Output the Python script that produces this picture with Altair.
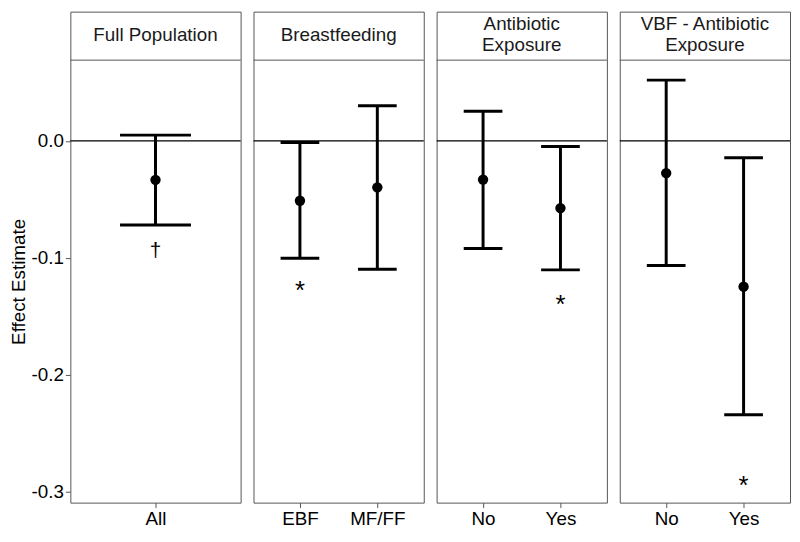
import altair as alt
import pandas as pd

# ---- data ----
panel_titles = [["Full Population"], ["Breastfeeding"], ["Antibiotic", "Exposure"],
                ["VBF - Antibiotic", "Exposure"]]
panel_of = [0, 1, 1, 2, 2, 3, 3]
category = ["All", "EBF", "MF/FF", "No", "Yes", "No", "Yes"]
estimate = [-0.0333, -0.0512, -0.0397, -0.0331, -0.0575, -0.0275, -0.1248]
lower = [-0.0719, -0.1005, -0.1099, -0.0920, -0.1104, -0.1066, -0.2344]
upper = [0.0050, -0.0013, 0.0301, 0.0254, -0.0047, 0.0521, -0.0143]
sig_mark = ["\u2020", "*", "", "", "*", "", "*"]
sig_pos = [-0.0945, -0.1228, None, None, -0.1344, None, -0.2893]
y_ticks = [-0.3, -0.2, -0.1, 0.0]
y_domain = [-0.3097, 0.0692]

# ---- layout / style ----
W = 172
STRIP_H = 49
TOTAL_H = 496
FONT = "Liberation Sans"
BORDER = "#555555"

df = pd.DataFrame(dict(panel=panel_of, cat=category, est=estimate, lo=lower,
                       hi=upper, sig=sig_mark, sigy=sig_pos))

yscale = alt.Scale(domain=y_domain, range=[TOTAL_H, STRIP_H], nice=False, zero=False)

panels = []
for i, title in enumerate(panel_titles):
    d = df[df.panel == i]
    cats = list(d.cat)
    n = len(cats)
    step = W / (n - 1 + 1.2)
    cap = 0.5 * step

    xaxis = alt.Axis(title=None, labelAngle=0, domain=False, grid=False, tickSize=5,
                     tickColor=BORDER, labelPadding=2, labelFontSize=19,
                     labelColor="black", labelFont=FONT)
    if i == 0:
        yaxis = alt.Axis(title="Effect Estimate", values=y_ticks,
                         labelExpr="(datum.value < 0 ? '-' : '') + format(abs(datum.value), '.1f')",
                         domain=False, grid=False, tickSize=5, tickColor=BORDER,
                         labelPadding=2, labelFontSize=19, labelColor="black",
                         labelFont=FONT, titleFont=FONT, titleFontSize=19,
                         titleFontWeight="normal", titleColor="black",
                         titlePadding=3, titleY=(STRIP_H + TOTAL_H) / 2)
    else:
        yaxis = None

    xenc = alt.X("cat:N", sort=cats, scale=alt.Scale(type="point", padding=0.6), axis=xaxis)

    base = alt.Chart(d)
    zero = alt.Chart(pd.DataFrame({"z": [0.0]})).mark_rule(color="black", strokeWidth=1.3).encode(
        y=alt.Y("z:Q", scale=yscale, axis=yaxis))
    bars = base.mark_rule(color="black", strokeWidth=3).encode(
        x=xenc, y=alt.Y("lo:Q", scale=yscale, axis=yaxis), y2="hi:Q")
    cap_hi = base.mark_tick(color="black", thickness=3, size=cap, opacity=1).encode(
        x=xenc, y=alt.Y("hi:Q", scale=yscale, axis=yaxis))
    cap_lo = base.mark_tick(color="black", thickness=3, size=cap, opacity=1).encode(
        x=xenc, y=alt.Y("lo:Q", scale=yscale, axis=yaxis))
    pts = base.mark_circle(color="black", size=110, opacity=1).encode(
        x=xenc, y=alt.Y("est:Q", scale=yscale, axis=yaxis))
    star = base.transform_filter("datum.sig == '*'").mark_text(
        font=FONT, fontSize=26, color="black", baseline="middle", dy=7).encode(
        x=xenc, y=alt.Y("sigy:Q", scale=yscale, axis=yaxis), text="sig:N")
    dagger = base.transform_filter("datum.sig == '\u2020'").mark_text(
        font=FONT, fontSize=21, color="black", baseline="middle").encode(
        x=xenc, y=alt.Y("sigy:Q", scale=yscale, axis=yaxis), text="sig:N")

    strip_line = alt.Chart(pd.DataFrame({"t": [0]})).mark_rule(color=BORDER, strokeWidth=1).encode(
        x=alt.value(0), x2=alt.value(W), y=alt.value(STRIP_H))
    first_baseline = 30 if len(title) == 1 else 19
    strip_text = alt.Chart(pd.DataFrame({"t": [title]})).mark_text(
        font=FONT, fontSize=19, color="#1a1a1a", baseline="alphabetic",
        lineHeight=21).encode(
        x=alt.value(W / 2), y=alt.value(first_baseline), text="t")

    layer = alt.layer(zero, bars, cap_hi, cap_lo, pts, star, dagger, strip_line, strip_text).properties(
        width=W, height=TOTAL_H)
    panels.append(layer)

chart = alt.hconcat(*panels, spacing=9).properties(
    padding={"left": 0, "top": 0, "right": 0, "bottom": 0}, background="white"
).configure_view(stroke=BORDER, strokeWidth=1)

chart.save("out.html", embed_options={"renderer": "svg", "actions": False})
